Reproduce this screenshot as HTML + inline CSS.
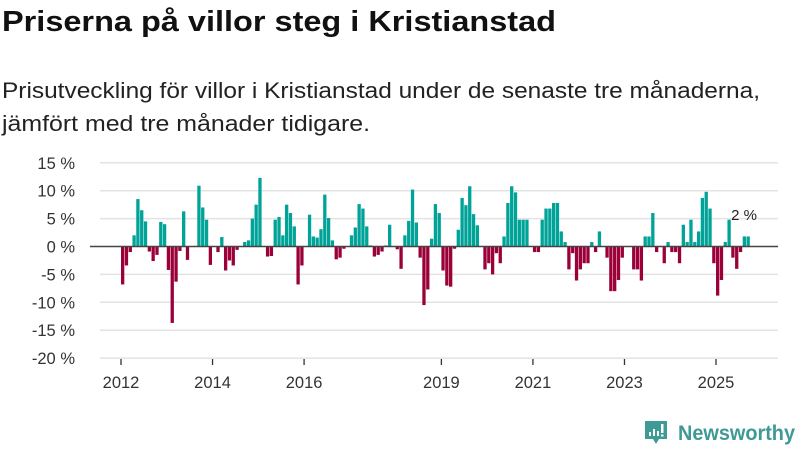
<!DOCTYPE html>
<html><head><meta charset="utf-8"><style>
body{margin:0;width:800px;height:450px;background:#fff;overflow:hidden;font-family:"Liberation Sans",sans-serif;}
</style></head><body>
<svg width="800" height="450" style="position:absolute;left:0;top:0">
<text x="2" y="31" font-size="29" font-weight="bold" fill="#111" textLength="554" lengthAdjust="spacingAndGlyphs">Priserna på villor steg i Kristianstad</text>
<text x="2" y="98" font-size="22" fill="#222" textLength="758" lengthAdjust="spacingAndGlyphs">Prisutveckling för villor i Kristianstad under de senaste tre månaderna,</text>
<text x="2" y="131" font-size="22" fill="#222" textLength="368" lengthAdjust="spacingAndGlyphs">jämfört med tre månader tidigare.</text>
<g id="grid"></g><g id="bars"></g><g id="axes"></g>
<text x="744" y="220" font-size="15" fill="#222" text-anchor="middle">2 %</text>
<g>
<path d="M645 421 h22 v18 h-8 l-3 5 l-3 -5 h-8 z" fill="#3d9a94"/>
<rect x="649" y="432" width="2" height="4" fill="#fff"/><rect x="653" y="429" width="2" height="7" fill="#fff"/><rect x="657" y="431" width="2" height="5" fill="#fff"/><rect x="661" y="424" width="2.5" height="9" fill="#fff"/><rect x="661" y="434.5" width="2.5" height="2" fill="#fff"/>
<text x="678" y="440" font-size="21" font-weight="bold" fill="#3d9a94" textLength="117" lengthAdjust="spacingAndGlyphs">Newsworthy</text>
</g>
</svg>
<script>
const startYear = 2012;
const values = [-6.8,-3.4,-1,2,8.5,6.5,4.5,-0.9,-2.6,-1.5,4.4,4,-4.2,-13.7,-6.3,-0.8,6.3,-2.4,0,0,10.9,7,4.8,-3.3,0,-1,1.7,-4.3,-2.5,-3.4,-0.6,0,0.8,1.1,5,7.5,12.3,0,-1.8,-1.7,4.8,5.3,
2,7.5,6,3.6,-6.8,-3.4,0,5.7,1.8,1.6,3.1,9.3,5.1,1.1,-2.3,-2,-0.4,0,2,3.4,7.6,6.8,3.6,0.2,-1.8,-1.5,-0.9,0.2,3.9,0,-0.5,-4,2,4.6,10.2,4.3,-2,-10.5,-7.7,1.4,7.6,6,
-4.3,-7,-7.2,-0.4,3,8.7,7.4,10.8,5.8,3.8,0,-4.1,-3,-5,-1.2,-3,1.8,7.8,10.8,9.7,4.8,4.8,4.8,0,-1,-1,4.8,6.8,6.8,7.8,7.8,2.7,0.8,-4.1,-1.2,-6.1,-4.1,-3,-3,0.8,-1,2.7,
0,-2,-8,-8,-6,-2,0,0,-4.1,-4.1,-6.1,1.8,1.8,6,-1,0,-3,0.8,-1,-1,-3,3.9,0.8,4.8,0.8,2.7,8.7,9.8,6.8,-3,-8.8,-6,0.8,4.8,-2,-4,-1,1.8,1.8];
const yTicks = [15,10,5,0,-5,-10,-15,-20];
const xTicks = [2012,2014,2016,2019,2021,2023,2025];
const NS='http://www.w3.org/2000/svg';
function y(v){return 246.5 - v*5.58;}
function x(yearFrac){return 121 + (yearFrac-2012)*45.77;}
function mk(tag,attrs,parent){const e=document.createElementNS(NS,tag);for(const k in attrs)e.setAttribute(k,attrs[k]);document.getElementById(parent).appendChild(e);return e;}
yTicks.forEach(t=>{
  if(t!==0){const l=mk('line',{x1:100,x2:778,y1:y(t),y2:y(t),stroke:'#e3e3e3','stroke-width':1.5},'grid');
  
  }
  const tx=mk('text',{x:75,y:y(t)+6,'font-size':16.5,fill:'#333','text-anchor':'end'},'axes');
  tx.textContent=t+' %';
  
  
});
values.forEach((v,i)=>{
  const xv=x(startYear+i/12);
  const r=mk('rect',{x:xv,y:Math.min(y(v),y(0)),width:3.3,height:Math.abs(y(v)-y(0)),fill:v>=0?'#00a398':'#9b0039'},'bars');
  
  
});
const z=mk('line',{x1:90,x2:778,y1:y(0),y2:y(0),stroke:'#444','stroke-width':1.6},'axes');


xTicks.forEach(t=>{
  const tk=mk('line',{x1:x(t),x2:x(t),y1:359,y2:365,stroke:'#333','stroke-width':1.3},'axes');
  
  
  const tx=mk('text',{x:x(t),y:388,'font-size':16.5,fill:'#333','text-anchor':'middle'},'axes');
  tx.textContent=t;
  
  
});
</script>
</body></html>
